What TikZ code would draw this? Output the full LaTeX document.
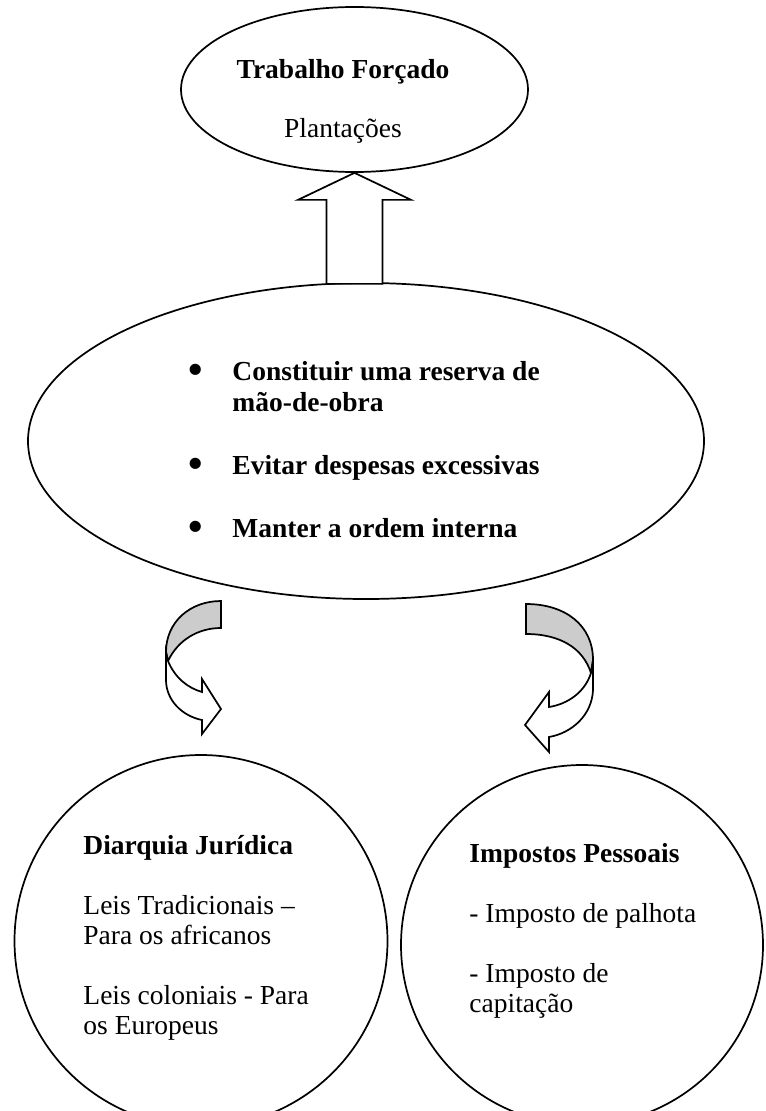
\documentclass[tikz,border=0pt]{standalone}
\usepackage{fontspec}
\setmainfont{Liberation Serif}
\usepackage{tikz}
\usetikzlibrary{shapes.geometric}
\def\pxu{0.4364pt}
\newcommand{\marca}{\makebox[19.2pt][l]{\raisebox{-1.5pt}{\fontsize{18}{18}\selectfont\textbullet}}}

\begin{document}
\begin{tikzpicture}[x=0.4364pt,y=-0.4364pt,
  oval/.style={ellipse,draw,line width=0.75pt,inner sep=0pt},
  txt/.style={inner sep=0pt,font=\fontsize{12}{13.09}\selectfont},
  bloco/.style={draw,line width=0.75pt,fill=white,line join=miter},
  verso/.style={draw,line width=0.75pt,fill=black!20}]
  \clip (0,0) rectangle (765,1111);
  \node[oval,minimum width=347*\pxu,minimum height=165*\pxu] (trabalho) at (354.5,89.5) {};
  \node[oval,minimum width=676*\pxu,minimum height=316*\pxu] (objectivos) at (366,441) {};
  \node[oval,minimum width=373*\pxu,minimum height=372*\pxu] (diarquia) at (201,941) {};
  \node[oval,minimum width=362*\pxu,minimum height=360*\pxu] (impostos) at (582,945) {};
  \node[txt,anchor=base,align=center] (ttrabalho) at (343,138)
    {\textbf{Trabalho Forçado}\\[13.09pt] Plantações};
  \node[txt,anchor=base west,align=left,font=\fontsize{12}{13.7}\selectfont\bfseries]
    (tobjectivos) at (188,537)
    {\marca Constituir uma reserva de\\ \hspace*{19.2pt}mão-de-obra\\[13.7pt]
     \marca Evitar despesas excessivas\\[13.7pt] \marca Manter a ordem interna};
  \node[txt,anchor=base west,align=left] (tdiarquia) at (83,1034)
    {\textbf{Diarquia Jurídica}\\[13.09pt] Leis Tradicionais –\\ Para os africanos\\[13.09pt]
     Leis coloniais - Para\\ os Europeus};
  \node[txt,anchor=base west,align=left] (timpostos) at (469,1012)
    {\textbf{Impostos Pessoais}\\[13.09pt] - Imposto de palhota\\[13.09pt]
     - Imposto de\\ capitação};
  \draw[bloco] (trabalho.south) -- ++(56.5,27) -- ++(-28.5,0) -- ++(0,84)
    -- ++(-56,0) -- ++(0,-84) -- ++(-28.5,0) -- cycle;
  \path[verso] (221,601) .. controls (190,601) and (166,622) .. (166,652)
    -- (168,661) .. controls (178,640) and (198,628) .. (221,628) -- cycle;
  \path[bloco] (166,652) -- (166,680) .. controls (166,700) and (182,716) .. (202,720)
    -- (202,734) -- (221,709) -- (202,679) -- (202,692)
    .. controls (188,688) and (175,678) .. (168,661) -- cycle;
  \path[verso] (526,604) .. controls (565,604) and (593,625) .. (593,660)
    -- (591,673) .. controls (583,648) and (560,634) .. (526,634) -- cycle;
  \path[bloco] (593,660) -- (593,690) .. controls (592,715) and (572,733) .. (549,737)
    -- (549,752) -- (525,725) -- (549,692) -- (549,707)
    .. controls (568,704) and (585,692) .. (591,673) -- cycle;
\end{tikzpicture}
\end{document}
